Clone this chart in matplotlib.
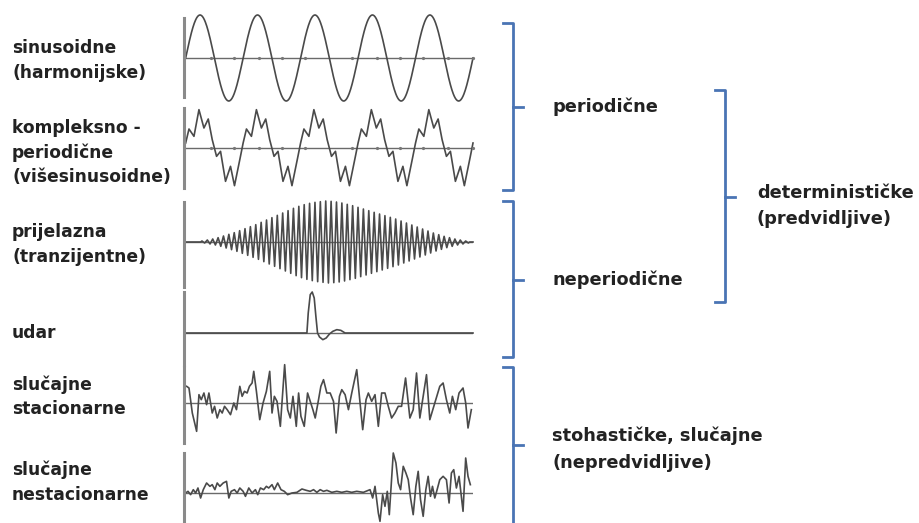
import numpy as np
import matplotlib.pyplot as plt

plt.rcParams['font.family'] = ['DejaVu Sans']

# --- data (time in arbitrary units 15..880, amplitude in arbitrary units) ---
T_START, T_END = 15, 880

# sinusoidal
sine_cycles = 5
sine_amp = 129

# complex periodic: one period, repeated
cp_period = 173
cp_phase = [0, 10, 25, 40, 55, 68, 80, 93, 105, 120, 135, 147, 165]
cp_vals = [15, 57, 35, 115, 60, 87, 25, -25, -10, -100, -55, -113, -25]
cp_repeats = 5

# transient: peak amplitude of every oscillation
tr_start, tr_end = 60, 870
tr_env = [3, 6, 9, 13, 18, 23, 28, 34, 40, 46, 52, 59, 66, 73, 80, 87, 94, 101,
          107, 112, 116, 119, 121, 123, 122, 120, 117, 113, 109, 104, 99, 94, 89,
          84, 79, 74, 69, 63, 57, 51, 45, 39, 33, 27, 22, 17, 13, 9, 6, 3]

# shock (udar)
sh_t = [15, 380, 384, 390, 396, 402, 407, 412, 418, 428, 438, 448, 458, 470, 482, 495, 880]
sh_v = [0, 0, 60, 115, 123, 105, 50, 0, -12, -20, -15, -3, 5, 10, 8, 0, 0]

# stationary random
st_t = [18, 25, 35, 48, 55, 62, 70, 78, 85, 95, 102, 110, 118, 125, 132, 140, 150,
        160, 168, 178, 185, 192, 200, 207, 215, 220, 228, 238, 248, 258, 268, 275,
        282, 290, 300, 313, 322, 330, 338, 348, 355, 362, 372, 382, 390, 398, 405,
        415, 422, 430, 440, 450, 460, 468, 478, 485, 495, 505, 515, 530, 540, 548,
        558, 565, 575, 585, 595, 605, 615, 625, 635, 645, 655, 665, 677, 690, 700,
        710, 720, 730, 740, 750, 765, 780, 790, 800, 810, 818, 828, 838, 850, 858,
        865, 875]
st_v = [50, 45, -30, -85, 25, 10, 30, -5, 30, -30, -10, -45, -20, -30, -10, -20, -35,
        0, -20, 50, 20, 35, 30, 50, 60, 95, 35, -50, 0, 35, 95, -30,
        20, 5, -70, 115, -20, -45, 20, -70, 30, -40, -70, 30, 5, -20, -45,
        10, 50, 70, 30, 30, 5, -90, 20, 40, 25, -20, 30, 100, 0, -80,
        10, 30, 5, 25, -70, 30, 30, -10, -45, -30, -10, -10, 75, -45, -20,
        90, -45, 20, 85, -50, 0, 50, 60, 10, -30, 20, -20, 30, 45, 0,
        -75, -20]

# non-stationary random
ns_t = [15, 22, 30, 38, 45, 52, 60, 68, 78, 88, 95, 103, 110, 118, 128, 138, 145,
        152, 162, 170, 178, 188, 195, 205, 215, 225, 232, 240, 250, 258, 265, 275,
        282, 292, 302, 312, 322, 335, 350, 365, 378, 390, 400, 410, 420, 430, 440,
        455, 470, 485, 500, 515, 530, 550, 570, 578, 585, 595, 600, 608, 615, 622,
        628, 640, 648, 655, 662, 670, 678, 685, 692, 700, 708, 715, 722, 730, 738,
        745, 752, 758, 765, 772, 780, 790, 800, 808, 815, 822, 830, 838, 850, 858,
        865, 872]
ns_v = [0, 5, -5, 10, 0, 15, -15, 10, 30, 20, 25, 10, 30, 20, 30, 35, -15,
        5, 10, 0, 15, 5, -10, 15, 0, 10, -5, 15, 10, 20, 15, 25,
        10, 30, 10, 5, -5, 0, 2, 12, 8, 5, 10, 2, 10, 5, 8,
        2, 5, 2, 5, 2, 5, 2, 10, -15, 20, -60, -85, -5, -40, 5,
        -65, 120, 90, 30, 10, 80, 60, 40, -15, -65, 20, 65, -20, -70, 10,
        50, -10, 20, -15, 10, 40, 50, 40, -30, 60, 70, 15, 50, -55, 105,
        50, 25]

# small dots on the time axis of the two periodic traces
dot_t = [90, 160, 235, 305, 375, 515, 590, 660, 730, 805, 880]

left_labels = [["sinusoidne", "(harmonijske)"],
               ["kompleksno -", "periodične", "(višesinusoidne)"],
               ["prijelazna", "(tranzijentne)"],
               ["udar"],
               ["slučajne", "stacionarne"],
               ["slučajne", "nestacionarne"]]

# --- build traces ---
sine_t = np.linspace(T_START, T_END, 600)
sine_v = sine_amp * np.sin(2 * np.pi * sine_cycles * (sine_t - T_START) / (T_END - T_START))

cp_t, cp_v = [], []
for k in range(cp_repeats):
    cp_t += [T_START + k * cp_period + p for p in cp_phase]
    cp_v += cp_vals
cp_t.append(T_START + cp_repeats * cp_period)
cp_v.append(cp_vals[0])

step = (tr_end - tr_start) / len(tr_env)
tr_t, tr_v = [T_START, tr_start], [0, 0]
for i, a in enumerate(tr_env):
    tr_t += [tr_start + (i + 0.25) * step, tr_start + (i + 0.75) * step]
    tr_v += [a, -a]
tr_t += [tr_end, T_END]
tr_v += [0, 0]

traces = [(sine_t, sine_v), (cp_t, cp_v), (tr_t, tr_v),
          (sh_t, sh_v), (st_t, st_v), (ns_t, ns_v)]

# --- layout (pixels) ---
W, H = 919, 523
baselines = [58, 148, 242, 333, 403, 493]
axis_spans = [(18, 97), (108, 188), (202, 287), (292, 365), (367, 443), (453, 523)]
label_y = [48, 128, 232, 333, 385, 470]
x0, x1 = 184, 473
half = 50  # half-height of each panel in px (3 units per px)

fig = plt.figure(figsize=(W / 100, H / 100), dpi=100)

for n, ((t, v), base, (top, bot)) in enumerate(zip(traces, baselines, axis_spans)):
    ax = fig.add_axes([x0 / W, (H - base - half) / H, (x1 - x0) / W, 2 * half / H])
    ax.set_xlim(T_START - 5, T_END)
    ax.set_ylim(-3 * half, 3 * half)
    ax.axis('off')
    ax.axhline(0, color='#6a6a6a', lw=1.0)
    ax.plot(t, v, color='#4a4a4a', lw=1.2, clip_on=False)
    if n < 2:
        ax.plot(dot_t, np.zeros(len(dot_t)), ls='none', marker='o', ms=1.3,
                color='#777777', clip_on=False)
    ymin = (base + half - bot) / (2 * half)
    ymax = (base + half - top) / (2 * half)
    ax.axvline(T_START - 5, ymin=ymin, ymax=ymax, color='#8a8a8a', lw=2.2, clip_on=False)

# text and brackets
ov = fig.add_axes([0, 0, 1, 1])
ov.set_xlim(0, W)
ov.set_ylim(H, 0)
ov.axis('off')

for lines, y in zip(left_labels, label_y):
    for j, s in enumerate(lines):
        ov.text(12, y + j * 24.5, s, fontsize=12.3, fontweight='bold', color='#222222',
                va='center', ha='left')

blue = '#4a74b4'


def bracket(x, top, bot, mid, hook=10, tick=10):
    ov.plot([x - hook, x, x, x - hook], [top, top, bot, bot], color=blue, lw=2,
            solid_joinstyle='round', clip_on=False)
    ov.plot([x, x + tick], [mid, mid], color=blue, lw=2)


bracket(513, 23, 190, 107)
bracket(513, 201, 357, 280)
bracket(513, 367, 540, 445)
bracket(725, 90, 302, 197)

right_text = [(552, 107, "periodične"), (552, 280, "neperiodične"),
              (552, 436, "stohastičke, slučajne"), (552, 463, "(nepredvidljive)"),
              (757, 193, "determinističke"), (757, 219, "(predvidljive)")]
for x, y, s in right_text:
    ov.text(x, y, s, fontsize=12.8, fontweight='bold', color='#222222', va='center', ha='left')

fig.savefig('out.png', dpi=100)
